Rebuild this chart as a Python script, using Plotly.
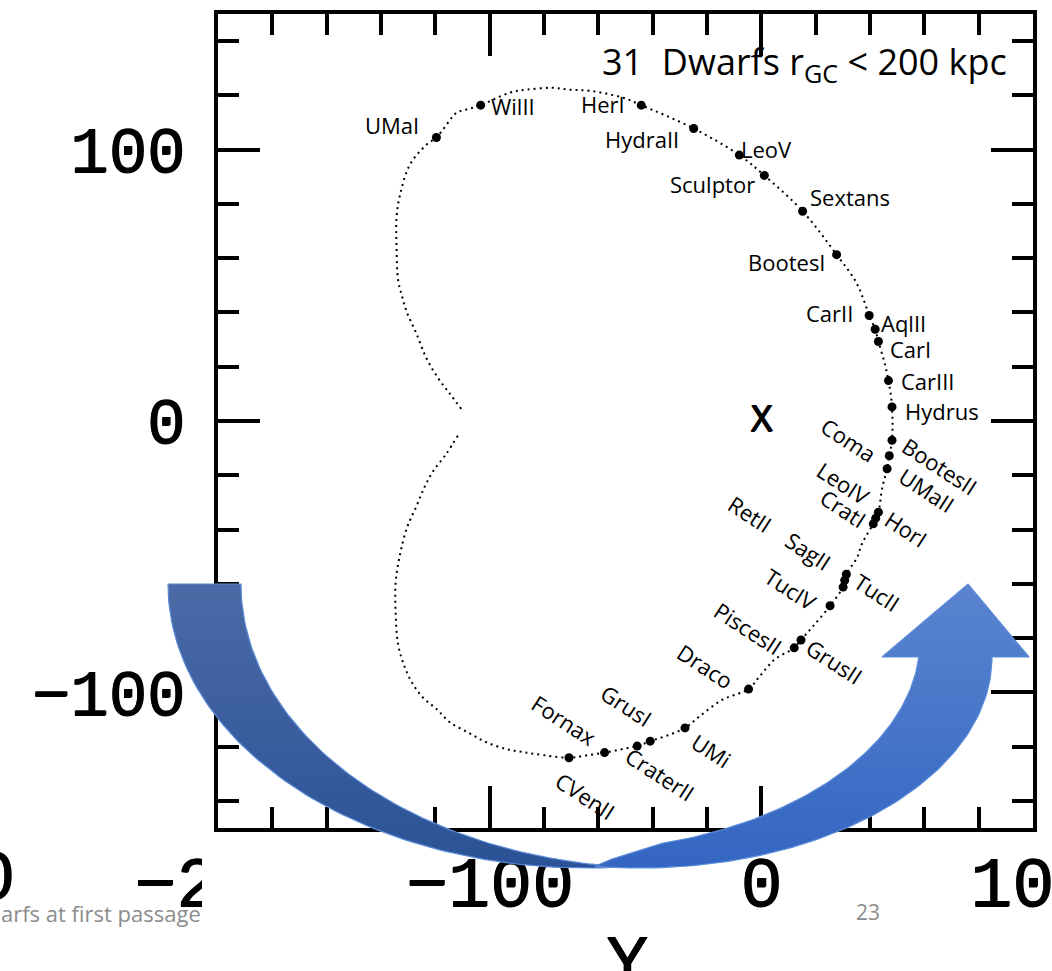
import numpy as np
import plotly.graph_objects as go

W, H = 1052, 971

# ---------------- data ----------------
dwarf_names = ["UMaI", "WilII", "HerI", "HydraII", "LeoV", "Sculptor", "Sextans", "BootesI",
               "CarII", "AqlII", "CarI", "CarIII", "Hydrus", "BootesII", "Coma", "UMaII",
               "LeoIV", "CratI", "HorI", "RetII", "SagII", "TucII", "TucIV", "PiscesII",
               "GrusII", "Draco", "GrusI", "UMi", "CraterII", "Fornax", "CVenII"]
dwarf_x = [-119.6, -103.3, -44.2, -24.9, -8.1, 1.1, 15.2, 27.7,
           39.7, 41.9, 43.1, 46.8, 48.1, 48.1, 47.1, 46.3,
           43.1, 41.2, 42.1, 31.3, 30.7, 30.1, 25.3, 12.1,
           14.6, -4.7, -40.9, -28.1, -45.7, -57.7, -70.8]
dwarf_y = [104.5, 116.4, 116.4, 107.8, 98.0, 90.5, 77.3, 61.3,
           38.9, 33.8, 29.3, 14.9, 5.2, -7.1, -12.8, -17.6,
           -33.6, -37.9, -35.8, -56.5, -58.7, -61.2, -68.1, -83.6,
           -80.7, -98.8, -118.0, -113.1, -119.8, -122.2, -124.1]

# great-circle track of the dwarf plane (kpc)
orbit_x = [-111.7, -115.9, -120.8, -123.9, -127.0, -130.6, -133.1, -134.6, -134.6, -133.7,
           -131.3, -128.2, -124.5, -119.6, -114.7, -107.4, -101.2, -93.9, -87.8, -79.8,
           -70.8, -64.0, -57.7, -51.5, -45.7, -40.9, -34.6, -28.1, -22.8, -14.3,
           -4.7, -0.7, 4.8, 12.1, 14.6, 18.8, 25.3, 30.1, 30.7, 31.3,
           35.3, 37.1, 41.2, 42.1, 43.1, 44.5, 46.3, 47.1, 48.1, 48.1,
           46.8, 45.2, 43.1, 41.9, 39.7, 37.9, 34.8, 27.7, 15.2, 1.1,
           -8.1, -24.9, -44.2, -51.1, -63.2, -70.6, -76.8, -86.4, -92.6, -103.3,
           -109.9, -112.1, -119.6, -123.3, -129.4, -133.1, -134.3, -134.3, -133.7, -132.5,
           -130.6, -127.0, -123.3, -119.0, -114.7, -110.4]
orbit_y = [-5.4, -12.0, -18.5, -24.2, -31.5, -39.8, -49.7, -59.4, -70.8, -82.4,
           -90.6, -97.1, -102.0, -106.1, -111.0, -115.1, -118.4, -120.9, -122.0, -123.2,
           -124.1, -123.2, -122.2, -121.0, -119.8, -118.0, -115.9, -113.1, -108.9, -102.7,
           -98.8, -94.2, -88.0, -83.6, -80.7, -75.9, -68.1, -61.2, -58.7, -56.5,
           -50.2, -45.1, -37.9, -35.8, -33.6, -24.6, -17.6, -12.8, -7.1, 5.2,
           14.9, 22.0, 29.3, 33.8, 38.9, 44.0, 51.3, 61.3, 77.3, 90.5,
           98.0, 107.8, 116.4, 119.2, 121.7, 122.1, 122.8, 122.1, 121.0, 116.4,
           114.4, 113.7, 104.5, 101.8, 94.4, 82.9, 74.8, 64.9, 51.9, 46.9,
           40.4, 32.3, 23.2, 15.8, 10.1, 4.4]

x_ticks = [-200, -100, 0, 100]
y_ticks = [-100, 0, 100]

# ---------------- label placement (pixel offsets from the dot, text angle) ----------------
label_layout = {
    "UMaI": (-44, -12, 0), "WilII": (32, 1, 0), "HerI": (-38, -1, 0),
    "HydraII": (-52, 11, 0), "LeoV": (27, -6, 0), "Sculptor": (-52, 9, 0),
    "Sextans": (47, -14, 0), "BootesI": (-50, 7, 0), "CarII": (-40, -2, 0),
    "AqlII": (28, -6, 0), "CarI": (32, 8, 0), "CarIII": (40, 0, 0),
    "Hydrus": (50, 4, 0), "BootesII": (48, 26, 33), "Coma": (-40, -16, 33),
    "UMaII": (40, 21, 33), "LeoIV": (-35, -29, 33), "CratI": (-30, -16, 33),
    "HorI": (31, 11, 33), "RetII": (-96, -60, 33), "SagII": (-36, -29, 33),
    "TucII": (34, 5, 33), "TucIV": (-39, -17, 33), "PiscesII": (-46, -20, 33),
    "GrusII": (33, 21, 33), "Draco": (-43, -23, 33), "GrusI": (-24, -36, 33),
    "UMi": (26, 22, 33), "CraterII": (23, 28, 33), "Fornax": (-40, -33, 33),
    "CVenII": (17, 38, 33),
}

LABEL_FONT = dict(family="Open Sans", size=22, color="black")
AXIS_FONT = "Liberation Mono"
THICK = "1px 0px 0px black, 0px 1px 0px black"


def axis_font(size):
    return dict(family=AXIS_FONT, size=size, color="black", shadow=THICK)


fig = go.Figure()

# orbit track, dotted
fig.add_trace(go.Scatter(
    x=orbit_x, y=orbit_y, mode="lines",
    line=dict(color="black", width=2, dash="2px,4px", shape="spline"),
    hoverinfo="skip"))

# dwarf galaxies
fig.add_trace(go.Scatter(
    x=dwarf_x, y=dwarf_y, mode="markers", text=dwarf_names,
    marker=dict(color="black", size=9), hoverinfo="text"))

# Galactic centre
fig.add_trace(go.Scatter(
    x=[0], y=[0], mode="text", text=["X"],
    textfont=dict(family=AXIS_FONT, size=38, color="black", shadow=THICK),
    hoverinfo="skip"))

# ---------------- curved arrow on a full-page pixel overlay ----------------
def arc(cx, cy, rx, ry, t0, t1, n=90):
    t = np.linspace(t0, t1, n)
    return cx + rx * np.cos(t), cy + ry * np.sin(t)

# back (left) limb: band between two equal ellipses shifted horizontally
ox, oy = arc(587, 584, 419, 284, np.pi, 1.4836)
ix, iy = arc(660, 584, 419, 284, 1.658, np.pi)
back_x = np.concatenate([ox, ix, [168]])
back_y = np.concatenate([oy, iy, [584]])

# front limb with the head
sx, sy = arc(640, 657, 352, 211, 1.700, 0.0)
tx, ty = arc(568, 640, 352, 211, 0.0807, 1.30)
front_x = np.concatenate([sx, [1029, 968, 882], tx, [612, sx[0]]])
front_y = np.concatenate([sy, [657, 584, 657], ty, [859, sy[0]]])

fig.add_trace(go.Scatter(
    x=back_x, y=back_y, xaxis="x2", yaxis="y2", mode="lines", fill="toself",
    line=dict(color="#5b8bd8", width=1.2),
    fillgradient=dict(type="vertical", start=584, stop=868,
                      colorscale=[[0, "#4b6aa6"], [1, "#2b5296"]]),
    hoverinfo="skip"))
fig.add_trace(go.Scatter(
    x=front_x, y=front_y, xaxis="x2", yaxis="y2", mode="lines", fill="toself",
    line=dict(color="#5b8bd8", width=1.2),
    fillgradient=dict(type="vertical", start=584, stop=868,
                      colorscale=[[0, "#5a84cf"], [1, "#3366c2"]]),
    hoverinfo="skip"))

# ---------------- annotations ----------------
annotations = []
for name, xv, yv in zip(dwarf_names, dwarf_x, dwarf_y):
    dx, dy, ang = label_layout[name]
    annotations.append(dict(
        x=xv, y=yv, xref="x", yref="y", text=name, showarrow=False,
        xshift=dx, yshift=-dy, textangle=ang, font=LABEL_FONT,
        xanchor="center", yanchor="middle"))


def px(xp):
    return xp / W


def py(yp):
    return 1 - yp / H


annotations += [
    dict(x=px(600), y=py(63), xref="paper", yref="paper", xanchor="left", yanchor="middle",
         text="31\u00a0 Dwarfs r<sub>GC</sub> &lt; 200 kpc", showarrow=False,
         font=dict(family="Open Sans", size=36, color="black")),
    dict(x=px(-1), y=py(913), xref="paper", yref="paper", xanchor="left", yanchor="middle",
         text="arfs at first passage", showarrow=False,
         font=dict(family="Open Sans", size=22, color="#8c8c8c")),
    dict(x=px(868), y=py(912), xref="paper", yref="paper", xanchor="center", yanchor="middle",
         text="23", showarrow=False,
         font=dict(family="Open Sans", size=21, color="#8c8c8c")),
    dict(x=px(627), y=py(965), xref="paper", yref="paper", xanchor="center", yanchor="middle",
         text="Y", showarrow=False, font=axis_font(70)),
    dict(x=px(17), y=py(880), xref="paper", yref="paper", xanchor="right", yanchor="middle",
         text="\u2212300", showarrow=False, font=axis_font(70)),
]

frame = dict(showline=True, linewidth=4, linecolor="black", mirror="allticks",
             ticks="inside", ticklen=42, tickwidth=4, tickcolor="black",
             showgrid=False, zeroline=False, automargin=False, fixedrange=True,
             ticklabeloverflow="allow")

fig.update_layout(
    width=W, height=H, margin=dict(l=0, r=0, t=0, b=0),
    paper_bgcolor="white", plot_bgcolor="rgba(0,0,0,0)", showlegend=False,
    xaxis=dict(domain=[218 / W, 1033 / W], range=[-200, 100], tickvals=x_ticks,
               minor=dict(ticks="inside", ticklen=21, tickwidth=4, tickcolor="black",
                          dtick=20, tick0=0),
               tickfont=axis_font(70), ticklabelstandoff=-10, **frame),
    yaxis=dict(domain=[1 - 828 / H, 1 - 14 / H], range=[-150, 150], tickvals=y_ticks,
               minor=dict(ticks="inside", ticklen=21, tickwidth=4, tickcolor="black",
                          dtick=20, tick0=0),
               tickfont=axis_font(64), ticklabelstandoff=16, **frame),
    xaxis2=dict(domain=[0, 1], range=[0, W], visible=False, anchor="y2", fixedrange=True),
    yaxis2=dict(domain=[0, 1], range=[H, 0], visible=False, anchor="x2", fixedrange=True),
    annotations=annotations,
    shapes=[dict(type="rect", xref="paper", yref="paper",
                 x0=px(202), x1=px(300), y0=py(945), y1=py(842),
                 fillcolor="white", line=dict(width=0), layer="above")],
)

fig.write_html("out.html", config={"displayModeBar": False})
